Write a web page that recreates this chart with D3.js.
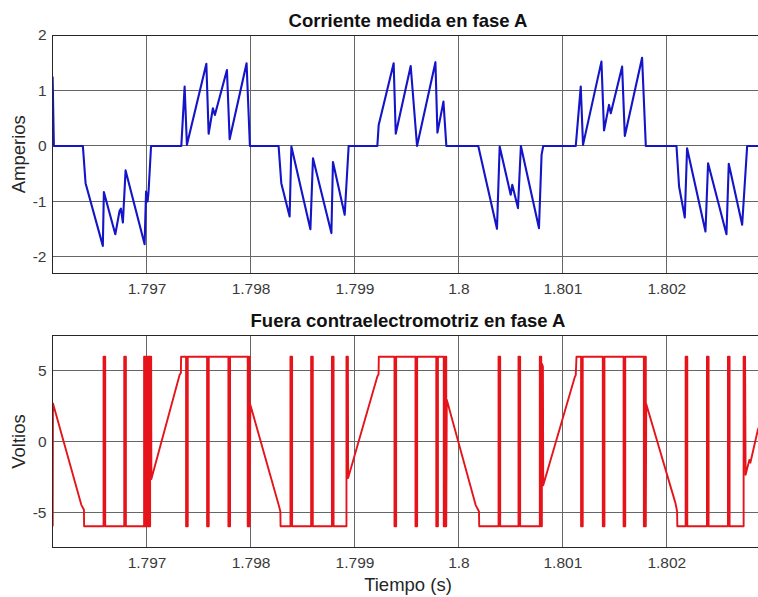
<!DOCTYPE html>
<html>
<head>
<meta charset="utf-8">
<script src="https://cdn.jsdelivr.net/npm/d3@7"></script>
<style>
  html, body { margin: 0; padding: 0; background: #ffffff; }
  svg { display: block; font-family: "Liberation Sans", Arial, Helvetica, sans-serif; }
</style>
</head>
<body>
<svg id="chart" width="758" height="597"></svg>
<script>
// Time window shown on both panels (seconds)
const timeDomain = [1.79609, 1.80294];
const timeTicks = [1.797, 1.798, 1.799, 1.8, 1.801, 1.802];
const timeTickLabels = ["1.797", "1.798", "1.799", "1.8", "1.801", "1.802"];

const currentTicks = [-2, -1, 0, 1, 2];
const voltageTicks = [-5, 0, 5];

const titleCurrent = "Corriente medida en fase A";
const titleEmf = "Fuera contraelectromotriz en fase A";
const labelCurrent = "Amperios";
const labelVoltage = "Voltios";
const labelTime = "Tiempo (s)";

// Phase A current [time s, amperes]
const currentA = [
  [1.796096, 1.25], [1.796108, 0], [1.796387, 0], [1.796413, -0.67], [1.796579, -1.80],
  [1.796589, -0.83], [1.796699, -1.59], [1.79674, -1.17], [1.796753, -1.13], [1.796772, -1.38],
  [1.796798, -0.44], [1.796981, -1.77], [1.796995, -0.82], [1.79701, -1.0], [1.797019, -0.82],
  [1.797043, 0], [1.797334, 0], [1.797366, 1.07], [1.797388, 0.02], [1.797575, 1.48],
  [1.797597, 0.22], [1.797638, 0.68], [1.797657, 0.56], [1.797773, 1.37], [1.797799, 0.12],
  [1.797962, 1.49], [1.797994, 0], [1.79827, 0], [1.798296, -0.67], [1.798376, -1.27],
  [1.798393, -0.01], [1.798576, -1.50], [1.798601, -0.22], [1.798778, -1.57], [1.798793, -0.29],
  [1.798906, -1.24], [1.798944, 0], [1.79922, 0], [1.799233, 0.38], [1.799377, 1.49],
  [1.799397, 0.22], [1.799541, 1.44], [1.799602, 0], [1.799779, 1.51], [1.799798, 0.24],
  [1.799856, 0.80], [1.799884, 0], [1.800191, 0], [1.800371, -1.49], [1.800397, -0.01],
  [1.800503, -0.88], [1.800518, -0.70], [1.800573, -1.12], [1.800601, 0], [1.800775, -1.48],
  [1.8008, -0.16], [1.800816, 0], [1.801129, 0], [1.801177, 1.07], [1.801199, 0.02],
  [1.801376, 1.52], [1.801401, 0.28], [1.801449, 0.74], [1.801466, 0.59], [1.801575, 1.43],
  [1.801601, 0.18], [1.801767, 1.59], [1.801803, 0], [1.802098, 0], [1.802123, -0.73],
  [1.802178, -1.29], [1.8022, -0.04], [1.802377, -1.54], [1.802402, -0.31], [1.802579, -1.59],
  [1.802601, -0.32], [1.80273, -1.42], [1.802778, 0], [1.80294, 0]
];

// Phase A back-EMF [time s, volts]
const emfA = [
  [1.796097, -6], [1.796099, 2.7], [1.796372, -4.48], [1.796397, -4.83], [1.796399, -6],
  [1.796586, -6], [1.796586, 6], [1.796602, 6], [1.796602, -6],
  [1.796785, -6], [1.796785, 6], [1.796801, 6], [1.796801, -6],
  [1.796976, -6], [1.796976, 6], [1.796988, 6], [1.796988, -6],
  [1.796996, -6], [1.796996, 6], [1.797008, 6], [1.797008, -6],
  [1.797016, -6], [1.797016, 6], [1.797028, 6], [1.797028, -6],
  [1.797034, -6], [1.797034, 6], [1.797044, 6], [1.797046, -2.66],
  [1.797318, 4.72], [1.79733, 4.85], [1.797332, 6],
  [1.79738, 6], [1.79738, -6], [1.797396, -6], [1.797396, 6],
  [1.797582, 6], [1.797582, -6], [1.797598, -6], [1.797598, 6],
  [1.797787, 6], [1.797787, -6], [1.797803, -6], [1.797803, 6],
  [1.797973, 6], [1.797973, -6], [1.797985, -6], [1.797985, 6],
  [1.797992, 6], [1.797992, -6], [1.797998, 2.6],
  [1.798273, -4.55], [1.798287, -4.95], [1.798289, -6],
  [1.798384, -6], [1.798384, 6], [1.7984, 6], [1.7984, -6],
  [1.798583, -6], [1.798583, 6], [1.798599, 6], [1.798599, -6],
  [1.798783, -6], [1.798783, 6], [1.798799, 6], [1.798799, -6],
  [1.798923, -6], [1.798923, 6], [1.798937, 6], [1.798939, -2.59],
  [1.79922, 4.6], [1.799232, 4.75], [1.799234, 6],
  [1.799385, 6], [1.799385, -6], [1.799401, -6], [1.799401, 6],
  [1.799587, 6], [1.799587, -6], [1.799603, -6], [1.799603, 6],
  [1.799787, 6], [1.799787, -6], [1.799803, -6], [1.799803, 6],
  [1.799859, 6], [1.799859, -6], [1.799873, -6], [1.799873, 6],
  [1.799883, 6], [1.799883, -6], [1.799888, 2.95],
  [1.800166, -4.5], [1.800198, -4.95], [1.8002, -6],
  [1.800386, -6], [1.800386, 6], [1.800402, 6], [1.800402, -6],
  [1.800578, -6], [1.800578, 6], [1.800594, 6], [1.800594, -6],
  [1.800783, -6], [1.800783, 6], [1.800797, 6], [1.800797, -6],
  [1.800803, -6], [1.800803, 5.5], [1.800813, 5.3], [1.800816, -3.1],
  [1.801119, 4.55], [1.801129, 4.7], [1.801136, 6],
  [1.80118, 6], [1.80118, -6], [1.801196, -6], [1.801196, 6],
  [1.801389, 6], [1.801389, -6], [1.801405, -6], [1.801405, 6],
  [1.801589, 6], [1.801589, -6], [1.801605, -6], [1.801605, 6],
  [1.801784, 6], [1.801784, -6], [1.801798, -6], [1.801798, 6],
  [1.801803, 6], [1.801803, -6], [1.801807, 2.65],
  [1.802088, -4.36], [1.802104, -4.95], [1.802106, -6],
  [1.802186, -6], [1.802186, 6], [1.802202, 6], [1.802202, -6],
  [1.802391, -6], [1.802391, 6], [1.802407, 6], [1.802407, -6],
  [1.802593, -6], [1.802593, 6], [1.802609, 6], [1.802609, -6],
  [1.802744, -6], [1.802744, 6], [1.802758, 6], [1.802763, -2.36],
  [1.802799, -1.3], [1.802809, -1.5], [1.802881, 0.83], [1.80289, 1.0]
];

const svg = d3.select("#chart");
const font = "'Liberation Sans', Arial, Helvetica, sans-serif";

const plotLeft = 52, plotRight = 764;
const x = d3.scaleLinear().domain(timeDomain).range([plotLeft, plotRight]);

const panels = [
  {
    id: "cur", data: currentA, domain: [-2.3, 2], range: [273.6, 35],
    ticks: currentTicks, title: titleCurrent, titleY: 26.5, ylabel: labelCurrent,
    color: "#1414c8", width: 2.1
  },
  {
    id: "emf", data: emfA, domain: [-7.5, 7.5], range: [547.5, 335.5],
    ticks: voltageTicks, title: titleEmf, titleY: 327, ylabel: labelVoltage,
    color: "#e6141a", width: 1.9
  }
];

panels.forEach(p => {
  const y = d3.scaleLinear().domain(p.domain).range(p.range);
  const top = p.range[1], bottom = p.range[0];
  const g = svg.append("g");

  // clip region for the plot area
  svg.append("clipPath").attr("id", "clip-" + p.id)
    .append("rect").attr("x", plotLeft).attr("y", top)
    .attr("width", plotRight - plotLeft).attr("height", bottom - top);

  // grid lines
  g.append("g").selectAll("line.vg").data(timeTicks).join("line")
    .attr("x1", d => x(d)).attr("x2", d => x(d))
    .attr("y1", top).attr("y2", bottom)
    .attr("stroke", "#666").attr("stroke-width", 1).attr("shape-rendering", "crispEdges");
  g.append("g").selectAll("line.hg").data(p.ticks).join("line")
    .attr("x1", plotLeft).attr("x2", plotRight)
    .attr("y1", d => y(d)).attr("y2", d => y(d))
    .attr("stroke", "#666").attr("stroke-width", 1).attr("shape-rendering", "crispEdges");

  // x axis tick labels
  const xAxis = d3.axisBottom(x).tickValues(timeTicks)
    .tickFormat((d, i) => timeTickLabels[i]).tickSize(0).tickPadding(9);
  const xa = g.append("g").attr("transform", `translate(0,${bottom})`).call(xAxis);
  xa.select(".domain").remove();
  xa.selectAll("text").attr("font-size", 15.5).attr("font-family", font).attr("fill", "#3a3a3a");

  // y axis tick labels
  const yAxis = d3.axisLeft(y).tickValues(p.ticks).tickFormat(d3.format("d"))
    .tickSize(0).tickPadding(5.5);
  const ya = g.append("g").attr("transform", `translate(${plotLeft},0)`).call(yAxis);
  ya.select(".domain").remove();
  ya.selectAll("text").attr("font-size", 15.5).attr("font-family", font).attr("fill", "#3a3a3a")
    .text(d => d < 0 ? "-" + Math.abs(d) : String(d));

  // signal trace
  const line = d3.line().x(d => x(d[0])).y(d => y(d[1]));
  g.append("path").datum(p.data)
    .attr("clip-path", `url(#clip-${p.id})`)
    .attr("d", line).attr("fill", "none")
    .attr("stroke", p.color).attr("stroke-width", p.width)
    .attr("stroke-linejoin", "round").attr("stroke-linecap", "butt");

  // axes box (top, left, bottom)
  g.append("path")
    .attr("d", `M${plotRight},${top}H${plotLeft}V${bottom}H${plotRight}`)
    .attr("fill", "none").attr("stroke", "#262626").attr("stroke-width", 1)
    .attr("shape-rendering", "crispEdges");

  // title
  g.append("text").attr("x", 408).attr("y", p.titleY)
    .attr("text-anchor", "middle").attr("font-weight", "bold")
    .attr("font-size", 18.5).attr("font-family", font).attr("fill", "#111")
    .text(p.title);

  // y label
  g.append("text")
    .attr("transform", `translate(19,${(top + bottom) / 2}) rotate(-90)`)
    .attr("text-anchor", "middle").attr("dy", "0.35em")
    .attr("font-size", 18.5).attr("font-family", font).attr("fill", "#262626")
    .text(p.ylabel);
});

// shared time label
svg.append("text").attr("x", 408).attr("y", 591)
  .attr("text-anchor", "middle").attr("font-size", 18.5)
  .attr("font-family", font).attr("fill", "#262626")
  .text(labelTime);
</script>
</body>
</html>
